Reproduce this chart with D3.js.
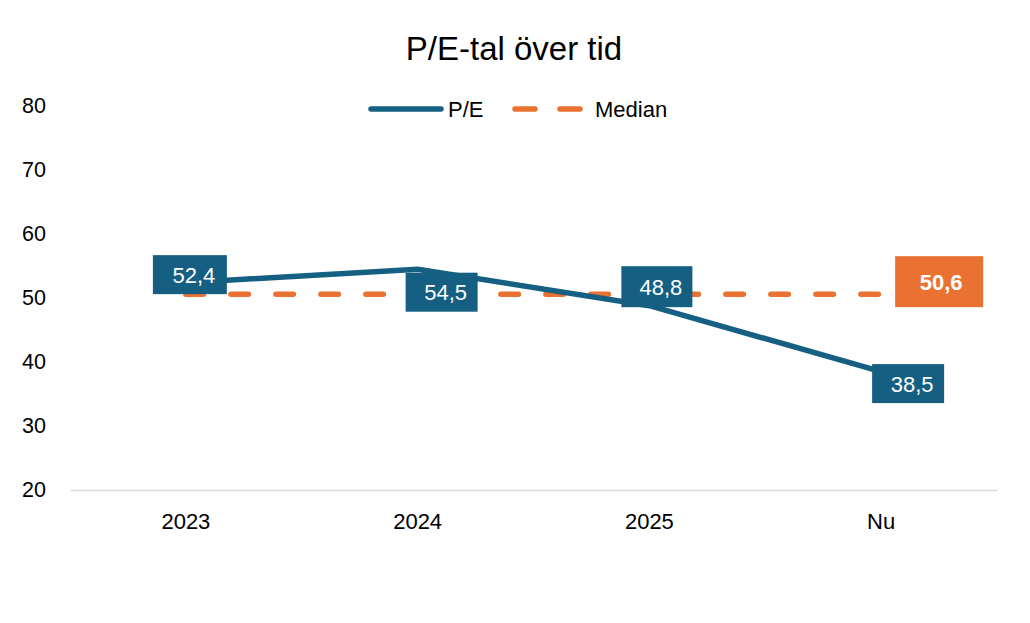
<html>
<head>
<script src="https://d3js.org/d3.v7.min.js"></script>
<style>
  body { margin: 0; background: #fff; }
  text { font-family: "Liberation Sans", Arial, sans-serif; }
</style>
</head>
<body>
<svg id="chart" width="1030" height="623"></svg>
<script>
// data
var categories = ["2023", "2024", "2025", "Nu"];
var peValues = [52.4, 54.5, 48.8, 38.5];
var medianValues = [50.6, 50.6, 50.6, 50.6];
var yTicks = [20, 30, 40, 50, 60, 70, 80];

var blue = "#156082";
var orange = "#E97132";

var svg = d3.select("#chart");

var x = d3.scaleBand()
  .domain(categories)
  .range([70, 997]);

var y = d3.scaleLinear()
  .domain([20, 80])
  .range([490, 106]);

function cx(d) { return x(d) + x.bandwidth() / 2; }

// title
svg.append("text")
  .attr("x", 514)
  .attr("y", 60)
  .attr("text-anchor", "middle")
  .attr("font-size", 33)
  .attr("fill", "#000")
  .text("P/E-tal över tid");

// y axis labels (no line)
var yAxis = svg.append("g")
  .attr("transform", "translate(46,0)")
  .call(d3.axisLeft(y).tickValues(yTicks).tickSize(0).tickPadding(0));
yAxis.select(".domain").remove();
yAxis.selectAll("text")
  .attr("font-size", 21.5)
  .attr("fill", "#000")
  .style("font-family", "Liberation Sans, Arial, sans-serif");

// x axis
var xAxis = svg.append("g")
  .attr("transform", "translate(0,490)")
  .call(d3.axisBottom(x).tickSize(0).tickPadding(23).tickSizeOuter(0));
xAxis.select(".domain").attr("stroke", "#d9d9d9").attr("stroke-width", 1.5);
xAxis.selectAll("text")
  .attr("font-size", 22)
  .attr("fill", "#000")
  .style("font-family", "Liberation Sans, Arial, sans-serif");

// median line
svg.append("path")
  .datum(medianValues)
  .attr("fill", "none")
  .attr("stroke", orange)
  .attr("stroke-width", 5.5)
  .attr("stroke-linecap", "round")
  .attr("stroke-dasharray", "17.5 27.5")
  .attr("d", d3.line()
    .x(function(d, i) { return cx(categories[i]); })
    .y(function(d) { return y(d); }));

// P/E line
svg.append("path")
  .datum(peValues)
  .attr("fill", "none")
  .attr("stroke", blue)
  .attr("stroke-width", 5.5)
  .attr("stroke-linejoin", "round")
  .attr("d", d3.line()
    .x(function(d, i) { return cx(categories[i]); })
    .y(function(d) { return y(d); }));

// data labels
var peOffsets = [[4, -8], [24, 23], [7.5, -19], [27, 12]];
var peSizes = [[74, 39], [72, 39], [71, 41], [72, 39]];

peValues.forEach(function(v, i) {
  var px = cx(categories[i]) + peOffsets[i][0];
  var py = y(v) + peOffsets[i][1];
  var w = peSizes[i][0], h = peSizes[i][1];
  svg.append("rect")
    .attr("x", px - w / 2)
    .attr("y", py - h / 2)
    .attr("width", w)
    .attr("height", h)
    .attr("fill", blue);
  svg.append("text")
    .attr("x", px + 4)
    .attr("y", py)
    .attr("dy", "0.36em")
    .attr("text-anchor", "middle")
    .attr("font-size", 22)
    .attr("fill", "#fff")
    .text(d3.format(".1f")(v).replace(".", ","));
});

// median label on last point
var last = categories.length - 1;
var mx = cx(categories[last]) + 58;
var my = y(medianValues[last]) - 12.5;
svg.append("rect")
  .attr("x", mx - 44)
  .attr("y", my - 25.5)
  .attr("width", 88)
  .attr("height", 51)
  .attr("fill", orange);
svg.append("text")
  .attr("x", mx + 2)
  .attr("y", my)
  .attr("dy", "0.36em")
  .attr("text-anchor", "middle")
  .attr("font-size", 22)
  .attr("font-weight", "bold")
  .attr("fill", "#fff")
  .text(d3.format(".1f")(medianValues[last]).replace(".", ","));

// legend
var legend = svg.append("g");
legend.append("line")
  .attr("x1", 371).attr("x2", 441)
  .attr("y1", 109).attr("y2", 109)
  .attr("stroke", blue)
  .attr("stroke-width", 5.5)
  .attr("stroke-linecap", "round");
legend.append("text")
  .attr("x", 448).attr("y", 109)
  .attr("dy", "0.36em")
  .attr("font-size", 22)
  .attr("fill", "#000")
  .text("P/E");
legend.append("line")
  .attr("x1", 515).attr("x2", 580)
  .attr("y1", 109).attr("y2", 109)
  .attr("stroke", orange)
  .attr("stroke-width", 5.5)
  .attr("stroke-linecap", "round")
  .attr("stroke-dasharray", "20 25");
legend.append("text")
  .attr("x", 595).attr("y", 109)
  .attr("dy", "0.36em")
  .attr("font-size", 22)
  .attr("fill", "#000")
  .text("Median");
</script>
</body>
</html>
